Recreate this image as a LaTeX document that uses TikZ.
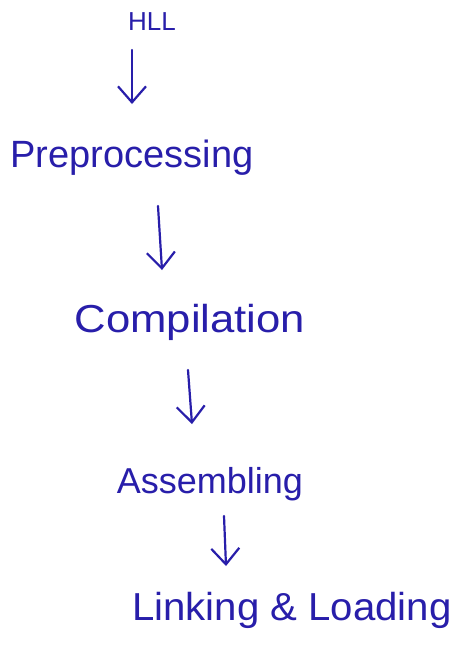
\documentclass[tikz,border=0pt]{standalone}
\usepackage{fontspec}
\setmainfont{Liberation Sans}
\usetikzlibrary{arrows.meta}
\definecolor{ink}{RGB}{40,30,170}
\begin{document}
\begin{tikzpicture}[x=0.5pt,y=-0.5pt,
  stage/.style={text=ink,inner sep=0pt,font=\fontsize{#1}{#1}\selectfont},
  small/.style={text=ink,inner sep=0pt,font=\fontsize{13}{15}\selectfont},
  flow/.style={draw=ink,line width=1.1pt,line cap=round,
    -{Straight Barb[length=8pt,width=14pt,line width=1.1pt]}}]
  \fill[white] (0,0) rectangle (455,665);
  \useasboundingbox (0,0) rectangle (455,665);

  % stages of the translation pipeline
  \node[small]     (hll)  at (152,22)  {HLL};
  \node[stage=19]  (pre)  at (132,158) {Preprocessing};
  \node[stage=19.5](comp) at (190,322) {\scalebox{1.12}[1]{Compilation}};
  \node[stage=18]  (asm)  at (210,484) {Assembling};
  \node[stage=19.5](link) at (292,610) {\scalebox{1.03}[1]{Linking \& Loading}};

  % arrow end points between consecutive stages
  \coordinate (a1s) at (132,50);  \coordinate (a1e) at (132,104);
  \coordinate (a2s) at (158,206); \coordinate (a2e) at (162,270);
  \coordinate (a3s) at (188,370); \coordinate (a3e) at (192,424);
  \coordinate (a4s) at (224,516); \coordinate (a4e) at (226,566);

  \draw[flow] (a1s) -- (a1e);
  \draw[flow] (a2s) -- (a2e);
  \draw[flow] (a3s) -- (a3e);
  \draw[flow] (a4s) -- (a4e);
\end{tikzpicture}
\end{document}
